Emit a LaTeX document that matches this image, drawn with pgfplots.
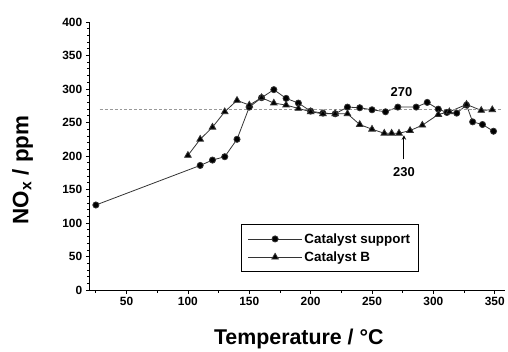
\documentclass[border=0pt]{standalone}
\usepackage{fontspec}
\setmainfont{Liberation Sans}
\usepackage{pgfplots}
\pgfplotsset{compat=1.18}
\begin{document}
\begin{tikzpicture}[x=1bp,y=1bp]
\begin{axis}[
  scale only axis,
  width=416bp, height=269bp,
  xmin=20, xmax=358, ymin=0, ymax=400,
  axis lines=left,
  axis line style={-, line width=1pt},
  tick align=outside,
  xtick={50,100,150,200,250,300,350},
  minor xtick={25,75,125,175,225,275,325},
  ytick={0,50,100,150,200,250,300,350,400},
  minor y tick num=4,
  major tick length=4bp, minor tick length=2.5bp,
  tick style={black, line width=0.8pt},
  /pgf/number format/assume math mode=true,
  ticklabel style={font=\bfseries\fontsize{12}{14}\selectfont},
  xlabel={Temperature / °C},
  ylabel={NO\textsubscript{x} / ppm},
  xlabel style={font=\bfseries\fontsize{21.5}{25}\selectfont, at={(axis description cs:0.504,0)}, anchor=base, yshift=-54bp},
  ylabel style={font=\bfseries\fontsize{22.5}{26}\selectfont, at={(axis description cs:-0.162,0.448)}, anchor=center},
  legend style={at={(0.793,0.067)}, anchor=south east, draw=black, line width=1pt,
    font=\bfseries\fontsize{13.5}{16}\selectfont, row sep=3bp, inner xsep=6bp, inner ysep=7bp},
  legend cell align=left,
  legend image code/.code={\draw[mark repeat=2,mark phase=2] plot coordinates {(0bp,0bp) (27bp,0bp) (54bp,0bp)};},
]
\addplot[black!80, line width=0.8pt, mark=*, mark size=3.1bp, mark options={solid, fill=black}] coordinates {
(25,127) (110,186) (120,194) (130,199) (140,225) (150,273) (160,287) (170,299)
(180,286) (190,279) (200,267) (210,264) (220,263) (230,273) (240,272) (250,269)
(261,266) (271,273) (286,273) (295,280) (304,270) (311,265) (319,264) (327,276)
(332,251) (340,247) (349,237)
};
\addlegendentry{Catalyst support}
\addplot[black!80, line width=0.8pt, mark=triangle*, mark size=3.8bp, mark options={solid, fill=black}] coordinates {
(100,201) (110,225) (120,243) (130,266) (140,283) (150,276) (160,287) (170,279)
(180,276) (190,271) (200,266) (210,263) (220,263) (230,263) (240,247) (250,240)
(260,234) (266,234) (272,234) (281,238) (291,246) (304,262) (313,266) (327,277)
(339,268) (348,269)
};
\addlegendentry{Catalyst B}
\addplot[black!40, dash pattern=on 3bp off 2bp, line width=0.7pt, forget plot] coordinates {(28,270) (356,270)};
\node[font=\bfseries\fontsize{13}{15}\selectfont] at (axis cs:274,296) {270};
\node[font=\bfseries\fontsize{13}{15}\selectfont] at (axis cs:276,176) {230};
\draw[->, line width=1pt, >=stealth] (axis cs:276,195) -- (axis cs:276,231);
\end{axis}
\path (current axis.south west) ++(-90bp,-56bp) coordinate (bbsw);
\path (current axis.north east) ++(2bp,22bp) coordinate (bbne);
\path (bbsw) rectangle (bbne);
\end{tikzpicture}
\end{document}
